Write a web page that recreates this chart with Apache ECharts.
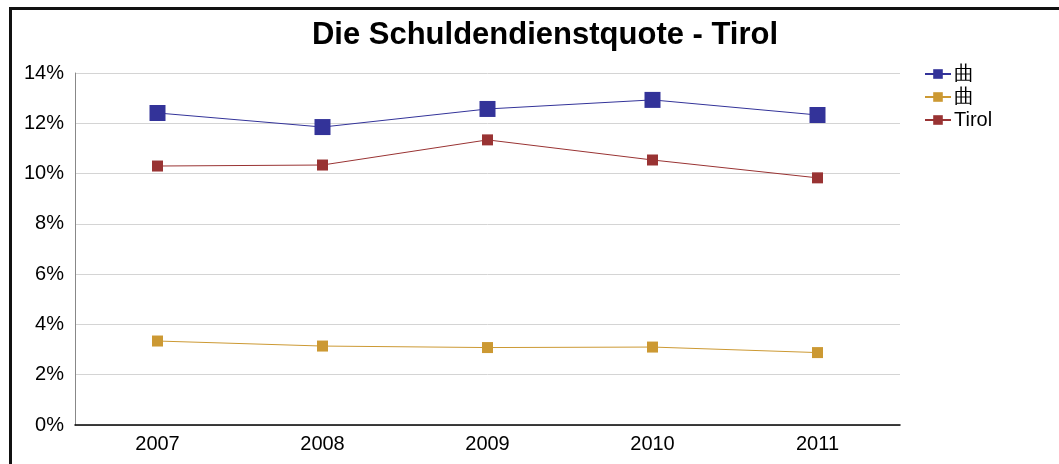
<!DOCTYPE html>
<html><head><meta charset="utf-8">
<script src="https://cdn.jsdelivr.net/npm/echarts@6/dist/echarts.min.js"></script>
<style>html,body{margin:0;padding:0;background:#fff}#c{width:1059px;height:464px}
#frame{position:absolute;left:9px;top:7px;width:1100px;height:500px;border:3px solid #111;box-sizing:border-box;pointer-events:none}</style>
</head><body><div id="c"></div><div id="frame"></div>
<script>
const categories = ['2007','2008','2009','2010','2011'];
const seriesNames = ['曲','曲','Tirol'];
const blueValues = [12.41, 11.85, 12.57, 12.93, 12.33];
const orangeValues = [3.34, 3.14, 3.08, 3.10, 2.88];
const redValues = [10.30, 10.34, 11.34, 10.54, 9.83];
const yTicks = [0, 2, 4, 6, 8, 10, 12, 14];

const font = 'Liberation Sans, Arial, sans-serif';
const chart = echarts.init(document.getElementById('c'));
function s(name, data, color, size){
  return {name, type:'line', data, symbol:'rect', symbolSize:size, showSymbol:true,
    lineStyle:{color, width:1}, itemStyle:{color}, animation:false};
}
chart.setOption({
  animation:false,
  title:{text:'Die Schuldendienstquote - Tirol', left:540, top:15, textAlign:'center',
    textStyle:{fontFamily:font, fontSize:31, fontWeight:'bold', color:'#000'}},
  legend:{orient:'vertical', left:919, top:59, itemGap:3, itemWidth:26, itemHeight:12,
    textStyle:{fontFamily:font, fontSize:20, color:'#000', padding:[0,0,0,-2]},
    data:[{name:seriesNames[0]},{name:seriesNames[1]+' '},{name:seriesNames[2]}]},
  grid:{left:75, right:159, top:73, bottom:39},
  xAxis:{type:'category', data:categories, boundaryGap:true,
    axisLine:{lineStyle:{color:'#000', width:1.5}}, axisTick:{show:false},
    axisLabel:{fontFamily:font, fontSize:20, color:'#000', margin:9}},
  yAxis:{type:'value', min:0, max:14, interval:2,
    axisLine:{show:true, lineStyle:{color:'#888'}}, axisTick:{show:false},
    splitLine:{lineStyle:{color:'#d4d4d4'}},
    axisLabel:{fontFamily:font, fontSize:20, color:'#000', margin:11,
      formatter: v => yTicks.includes(v) ? v + '%' : ''}},
  series:[
    s(seriesNames[0], blueValues, '#333399', 16),
    s(seriesNames[1]+' ', orangeValues, '#cc9933', 11),
    s(seriesNames[2], redValues, '#993333', 11)
  ]
});
</script></body></html>
